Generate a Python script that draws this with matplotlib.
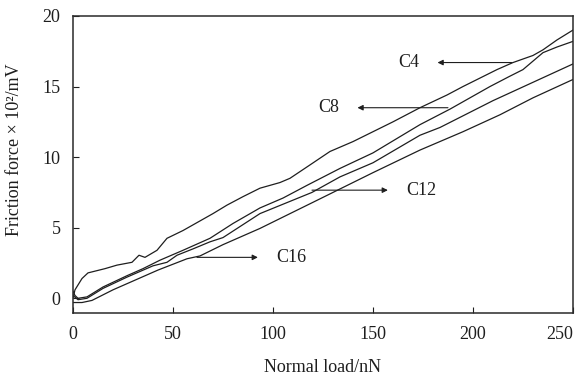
import matplotlib
matplotlib.use("Agg")
import matplotlib.pyplot as plt

# ------------------------------
# DATA
# ------------------------------

c4_load = [0, 1, 4.5, 7.5, 16, 22, 29.5, 33, 36, 42, 47, 55, 60, 70, 77, 85, 93.5,
           103.5, 108.5, 118, 128.5, 140, 150, 160, 173.5, 187, 195, 203.5, 212,
           220, 226, 230, 235, 242, 250]
c4_force = [0.0, 0.6, 1.4, 1.8, 2.1, 2.35, 2.55, 3.05, 2.9, 3.4, 4.25, 4.8, 5.2, 6.0,
            6.6, 7.2, 7.8, 8.2, 8.5, 9.4, 10.4, 11.1, 11.8, 12.5, 13.5, 14.4, 15.0,
            15.6, 16.2, 16.7, 17.0, 17.2, 17.6, 18.3, 19.0]

c8_load = [0, 1, 2.5, 7, 15, 27, 35, 43.5, 55, 68.5, 80, 93.5, 105, 117, 133.5, 150,
           173.5, 188.5, 208.5, 218, 225, 230, 235, 242, 250]
c8_force = [0.5, 0.2, 0.0, 0.1, 0.8, 1.6, 2.1, 2.7, 3.4, 4.25, 5.3, 6.4, 7.1, 8.0,
            9.2, 10.3, 12.3, 13.4, 15.0, 15.7, 16.2, 16.8, 17.4, 17.8, 18.2]

c12_load = [0, 2.5, 7, 15, 27, 40, 47, 52, 60, 68.5, 75, 93.5, 119.5, 133.5, 150,
            173.5, 183.5, 210, 230, 250]
c12_force = [0.2, -0.1, 0.0, 0.7, 1.5, 2.3, 2.55, 3.05, 3.5, 4.0, 4.3, 6.0, 7.5,
             8.6, 9.6, 11.55, 12.1, 14.0, 15.3, 16.6]

c16_load = [0, 4.5, 9.5, 20, 42.5, 57, 63.5, 75, 93.5, 120, 150, 173.5, 195, 213.5,
            230, 250]
c16_force = [-0.3, -0.3, -0.15, 0.6, 2.0, 2.8, 3.0, 3.8, 4.95, 6.8, 8.9, 10.5, 11.8,
             13.0, 14.2, 15.5]

series = [("C4", c4_load, c4_force), ("C8", c8_load, c8_force),
          ("C12", c12_load, c12_force), ("C16", c16_load, c16_force)]

# label: (name, point on curve, text position)
labels = [("C4", (219.5, 16.7), (168, 16.7)),
          ("C8", (187.5, 13.5), (128, 13.5)),
          ("C12", (119.5, 7.66), (174, 7.66)),
          ("C16", (62, 2.9), (109, 2.9))]

x_ticks = [0, 50, 100, 150, 200, 250]
y_ticks = [0, 5, 10, 15, 20]

# ------------------------------
# PLOT
# ------------------------------

plt.rcParams["font.family"] = ["Liberation Serif", "DejaVu Serif"]
INK = "#1e1e1e"

fig = plt.figure(figsize=(5.77, 3.80), dpi=100)
ax = fig.add_axes([0.1265, 0.176, 0.8665, 0.782])

for name, load, force in series:
    ax.plot(load, force, color=INK, lw=0.9)

for name, xy, xytext in labels:
    ax.annotate(name, xy=xy, xytext=xytext, fontsize=13, color=INK,
                ha="center", va="center",
                arrowprops=dict(arrowstyle="<|-", color=INK, lw=0.8,
                                mutation_scale=8, shrinkA=11, shrinkB=0))

ax.set_xlim(0, 250)
ax.set_ylim(-1.05, 20)
ax.set_xticks(x_ticks)
ax.set_yticks(y_ticks)
ax.tick_params(direction="in", length=4, width=0.8, labelsize=13, pad=9,
               colors=INK)
ax.get_xticklabels()[-1].set_horizontalalignment("right")
ax.get_xticklabels()[-1].set_x(253)
for sp in ax.spines.values():
    sp.set_linewidth(1.1)
    sp.set_color("#2a2a2a")

ax.set_xlabel("Normal load/nN", fontsize=13, color=INK)
ax.set_ylabel("Friction force × 10²/mV", fontsize=13, color=INK)
ax.xaxis.set_label_coords(0.5, -0.155)
ax.yaxis.set_label_coords(-0.1, 0.55)

fig.savefig("out.png", dpi=100)
